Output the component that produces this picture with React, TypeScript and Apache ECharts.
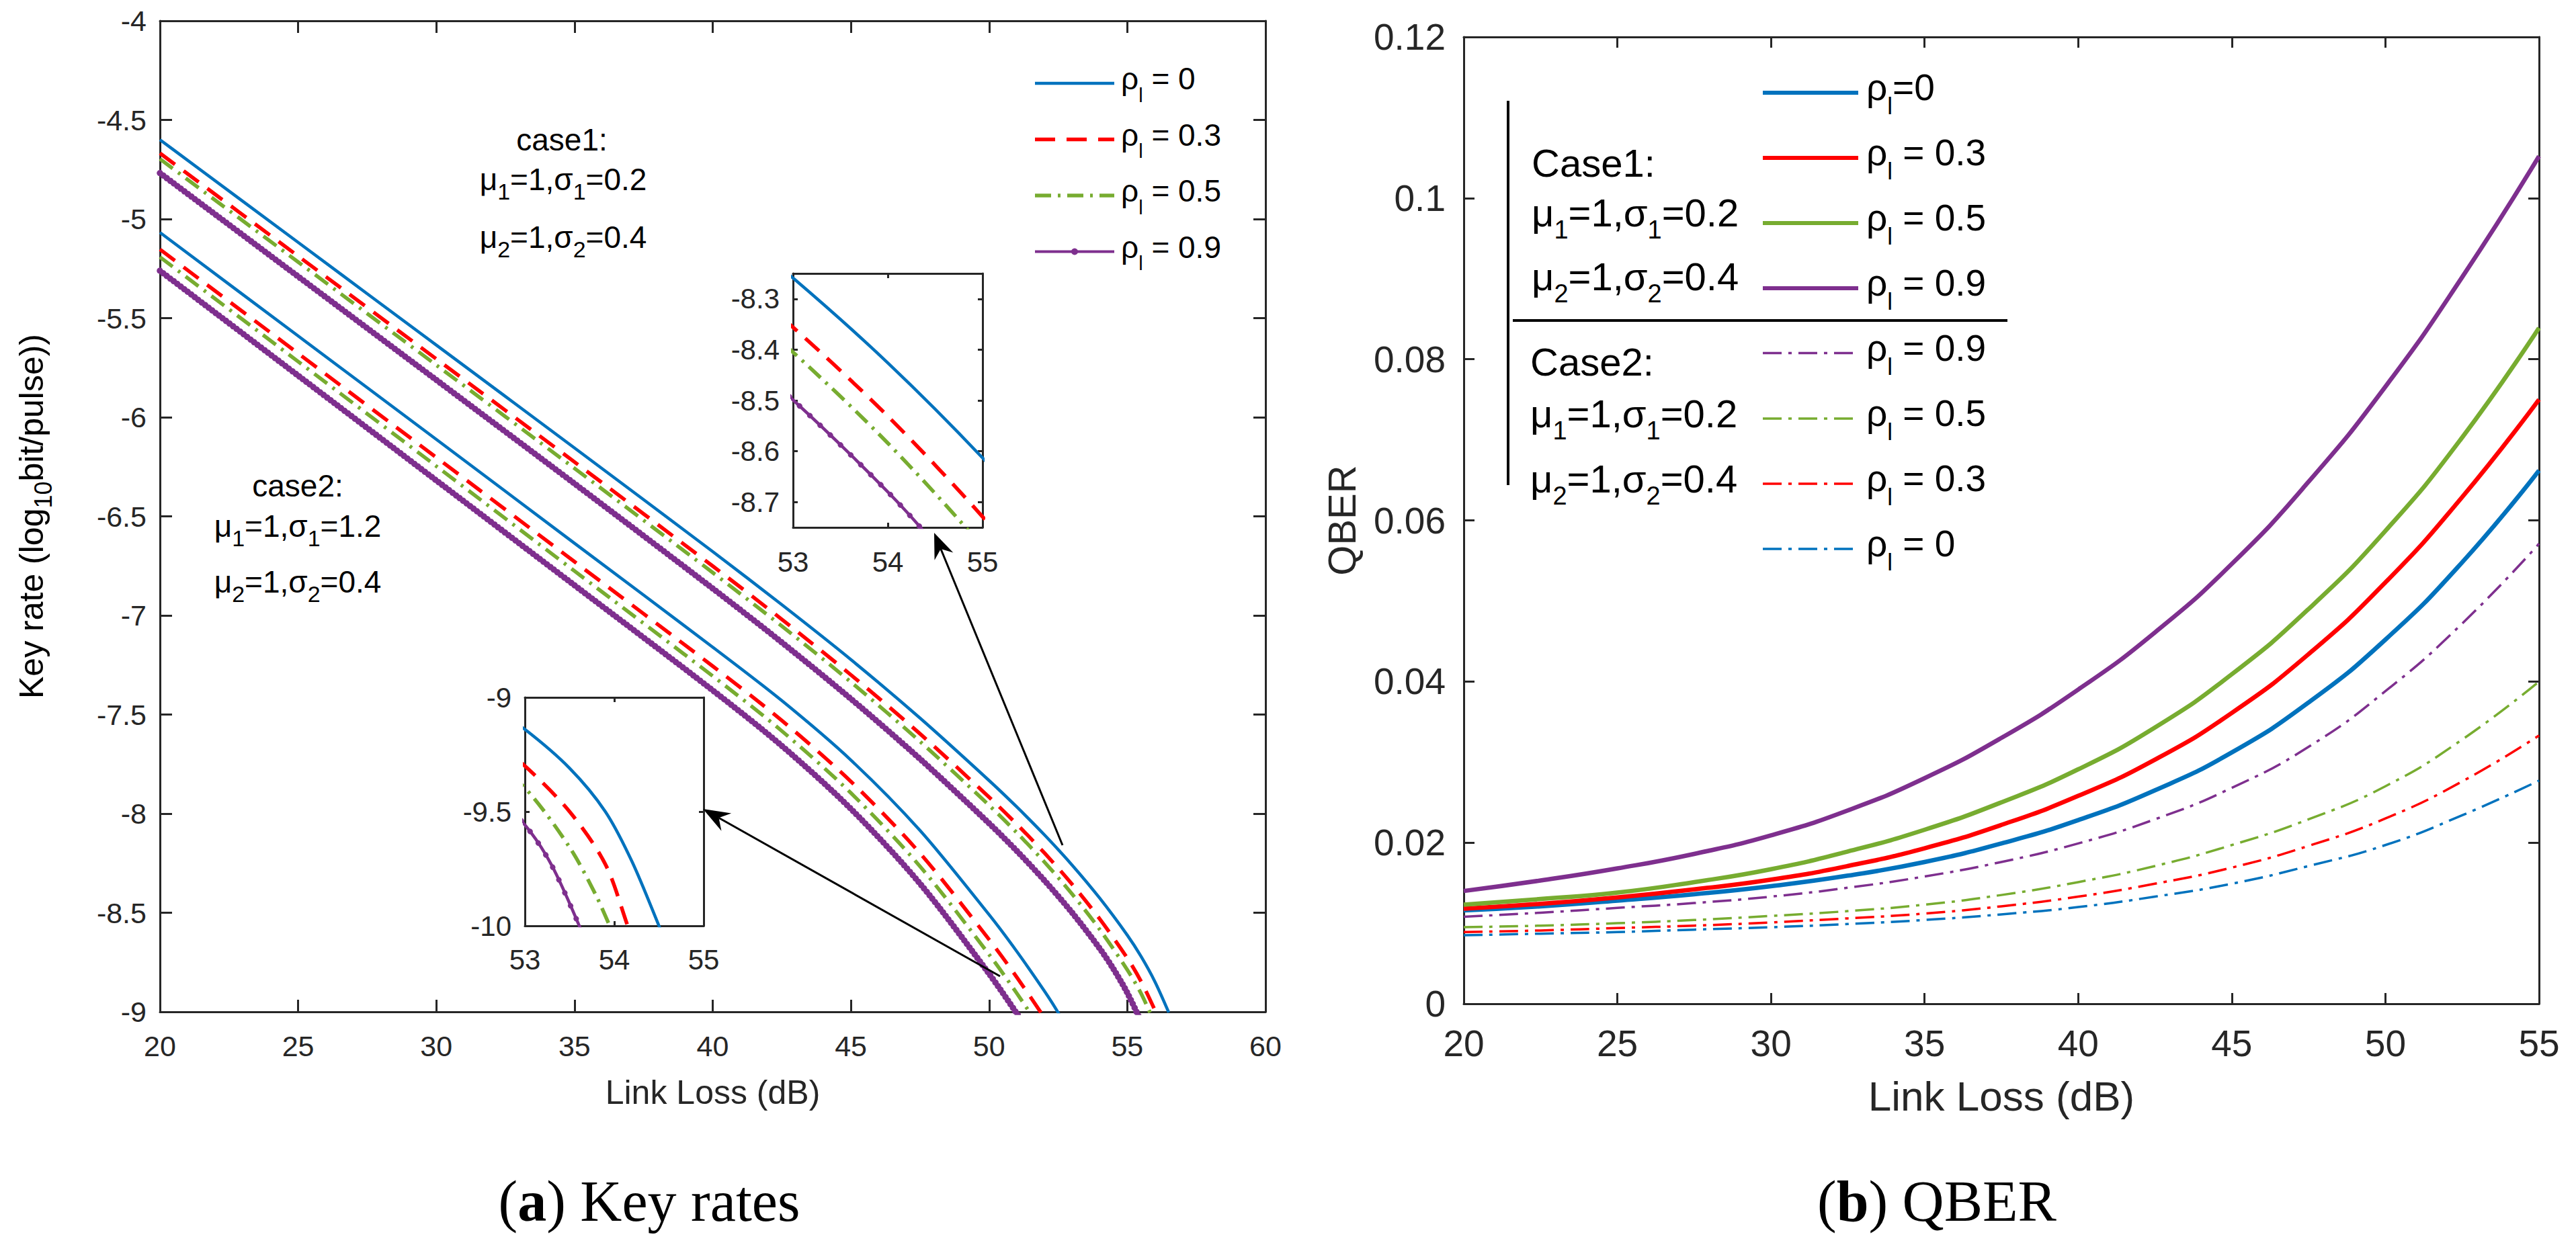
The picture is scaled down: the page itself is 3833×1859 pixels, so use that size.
import React, { useEffect, useRef } from "react";
import * as echarts from "echarts";

const BLUE = "#0072BD";
const RED = "#FF0000";
const GREEN = "#77AC30";
const PURPLE = "#7E2F8E";
const INK = "#262626";
const SANS = "'Liberation Sans', Arial, Helvetica, sans-serif";
const SERIF = "'Liberation Serif', 'Times New Roman', serif";

// ---- (a) key rate, log10(bit/pulse) vs link loss (dB) ----
// case 1: mu1=1, sigma1=0.2, mu2=1, sigma2=0.4
const keyCase1Rho0 = [[20, -4.6], [25, -5.118], [30, -5.636], [35, -6.155], [40, -6.678], [42.5, -6.946], [45, -7.223], [47.5, -7.518], [50, -7.833], [51, -7.966], [52, -8.107], [53, -8.259], [54, -8.426], [55, -8.613], [55.5, -8.721], [56, -8.848], [56.5, -9.003]];
const keyCase1Rho03 = [[20, -4.668], [25, -5.187], [30, -5.706], [35, -6.226], [40, -6.751], [42.5, -7.02], [45, -7.3], [47.5, -7.597], [50, -7.917], [51, -8.053], [52, -8.198], [53, -8.356], [54, -8.531], [55, -8.729], [55.5, -8.847], [56, -8.992], [56.3, -9.09]];
const keyCase1Rho05 = [[20, -4.697], [25, -5.217], [30, -5.737], [35, -6.258], [40, -6.784], [42.5, -7.054], [45, -7.336], [47.5, -7.636], [50, -7.958], [51, -8.096], [52, -8.244], [53, -8.405], [54, -8.584], [55, -8.788], [55.5, -8.908], [56, -9.06]];
const keyCase1Rho09 = [[20, -4.768], [25, -5.29], [30, -5.812], [35, -6.335], [40, -6.864], [42.5, -7.136], [45, -7.421], [47.5, -7.724], [50, -8.049], [51, -8.188], [52, -8.337], [53, -8.499], [54, -8.68], [54.5, -8.784], [55, -8.904], [55.5, -9.05]];
// case 2: mu1=1, sigma1=1.2, mu2=1, sigma2=0.4
const keyCase2Rho0 = [[20, -5.068], [25, -5.59], [30, -6.112], [35, -6.636], [40, -7.16], [42.5, -7.43], [45, -7.73], [47.5, -8.085], [50, -8.51], [51, -8.695], [52, -8.895], [52.5, -9.005], [53, -9.14], [53.5, -9.31], [53.9, -9.5], [54.2, -9.72], [54.5, -10.0], [54.6, -10.1]];
const keyCase2Rho03 = [[20, -5.153], [25, -5.678], [30, -6.203], [35, -6.729], [40, -7.256], [42.5, -7.53], [45, -7.838], [47.5, -8.2], [50, -8.635], [51, -8.825], [52, -9.03], [52.5, -9.145], [53, -9.3], [53.5, -9.5], [53.9, -9.73], [54.15, -10.0], [54.2, -10.06]];
const keyCase2Rho05 = [[20, -5.192], [25, -5.719], [30, -6.247], [35, -6.776], [40, -7.306], [42.5, -7.583], [45, -7.896], [47.5, -8.266], [50, -8.711], [51, -8.906], [52, -9.116], [52.5, -9.236], [53, -9.396], [53.5, -9.656], [53.8, -9.87], [53.97, -10.02]];
const keyCase2Rho09 = [[20, -5.261], [25, -5.79], [30, -6.319], [35, -6.848], [40, -7.378], [42.5, -7.658], [45, -7.976], [47.5, -8.353], [50, -8.808], [51, -9.008], [52, -9.22], [52.5, -9.36], [53, -9.558], [53.3, -9.735], [53.63, -10.02]];

// ---- (b) QBER vs link loss (dB) ----
const qberLoss = [20, 22.5, 25, 27.5, 30, 32.5, 35, 37.5, 40, 42.5, 45, 47.5, 50, 52.5, 55];
const qberCase1Rho0 = [0.0116, 0.0121, 0.0128, 0.0136, 0.0146, 0.0159, 0.0176, 0.0199, 0.0228, 0.0265, 0.0312, 0.0374, 0.0452, 0.0548, 0.0662];
const qberCase1Rho03 = [0.0118, 0.0124, 0.0132, 0.0142, 0.0154, 0.0171, 0.0193, 0.0222, 0.0258, 0.0303, 0.0361, 0.0434, 0.0523, 0.0629, 0.075];
const qberCase1Rho05 = [0.0123, 0.013, 0.0138, 0.0151, 0.0167, 0.0189, 0.0216, 0.025, 0.0291, 0.0343, 0.0409, 0.049, 0.0587, 0.0703, 0.0839];
const qberCase1Rho09 = [0.014, 0.0153, 0.0168, 0.0186, 0.0209, 0.024, 0.028, 0.033, 0.039, 0.0461, 0.0546, 0.0648, 0.0766, 0.0902, 0.1052];
const qberCase2Rho09 = [0.0108, 0.0113, 0.0119, 0.0125, 0.0133, 0.0144, 0.0158, 0.0176, 0.0199, 0.0229, 0.0268, 0.0319, 0.0388, 0.0472, 0.0571];
const qberCase2Rho05 = [0.0095, 0.0097, 0.01, 0.0104, 0.0109, 0.0115, 0.0123, 0.0135, 0.0151, 0.0171, 0.0197, 0.0229, 0.027, 0.0328, 0.04];
const qberCase2Rho03 = [0.0089, 0.0091, 0.0094, 0.0097, 0.0101, 0.0106, 0.0112, 0.0121, 0.0133, 0.0149, 0.0169, 0.0196, 0.023, 0.0276, 0.0333];
const qberCase2Rho0 = [0.0085, 0.0087, 0.0089, 0.0092, 0.0095, 0.0099, 0.0104, 0.0111, 0.012, 0.0133, 0.0149, 0.0171, 0.0197, 0.0234, 0.0277];

const rhoLabels = ["0", "0.3", "0.5", "0.9"];

const DASH = [28, 16];
const DASHDOT = [24, 10, 4, 10];
const QDASHDOT = [28, 10, 5, 10];

const pairs = (xs: number[], ys: number[]) => xs.map((x, i) => [x, ys[i]]);

function curve(data: any, g: number, color: string, width: number, type: any, smooth: number | boolean, z = 2) {
  return {
    type: "line",
    xAxisIndex: 2 * g,
    yAxisIndex: 2 * g,
    data,
    symbol: "none",
    showSymbol: false,
    smooth,
    silent: true,
    z,
    lineStyle: { color, width, type, cap: "butt", join: "round" },
  };
}

// round-capped zero-length dashes give the beaded look of the rho=0.9 marker line
function beads(data: any, g: number, gap: number, size: number, smooth: number | boolean) {
  return {
    type: "line",
    xAxisIndex: 2 * g,
    yAxisIndex: 2 * g,
    data,
    symbol: "none",
    showSymbol: false,
    smooth,
    silent: true,
    z: 4,
    lineStyle: { color: PURPLE, width: size, type: [0.01, gap], cap: "round" },
  };
}

function axisPair(kind: "x" | "y", g: number, opt: any) {
  const { min, max, interval, fontSize, margin, tick, lineW, custom, name } = opt;
  const base: any = {
    type: "value",
    gridIndex: g,
    min,
    max,
    splitLine: { show: false },
    axisLine: { show: true, onZero: false, lineStyle: { color: INK, width: lineW } },
    axisTick: { show: true, inside: true, length: tick, lineStyle: { color: INK, width: lineW } },
  };
  if (interval != null) base.interval = interval;
  if (custom) base.axisTick.customValues = custom;
  const primary: any = {
    ...base,
    position: kind === "x" ? "bottom" : "left",
    axisLabel: {
      show: true,
      fontSize,
      margin,
      color: INK,
      fontFamily: SANS,
      lineHeight: fontSize,
      ...(custom ? { customValues: custom } : {}),
    },
  };
  if (name) Object.assign(primary, name);
  const secondary: any = {
    ...base,
    position: kind === "x" ? "top" : "right",
    axisLabel: { show: false },
  };
  return [primary, secondary];
}

function richStyles(main: number, sub: number, lh: number, slh: number) {
  return {
    m: { fontSize: main, lineHeight: lh, verticalAlign: "middle", fontFamily: SANS, fill: "#000", color: "#000" },
    s: { fontSize: sub, lineHeight: slh, verticalAlign: "bottom", fontFamily: SANS, fill: "#000", color: "#000" },
  };
}

function label(x: number, y: number, text: string, rich: any, align = "left") {
  return {
    type: "text",
    x,
    y,
    silent: true,
    z: 20,
    style: {
      text,
      rich,
      fill: "#000",
      font: `46px ${SANS}`,
      align,
      textAlign: align,
      verticalAlign: "middle",
      textVerticalAlign: "middle",
    },
  };
}

function seg(x1: number, y1: number, x2: number, y2: number, stroke: string, lineWidth: number, lineDash?: number[]) {
  return {
    type: "line",
    silent: true,
    z: 20,
    shape: { x1, y1, x2, y2 },
    style: { stroke, lineWidth, lineDash: lineDash || null, lineCap: "butt" },
  };
}

function arrow(tail: number[], tip: number[], L: number, W: number, notch: number) {
  const dx = tip[0] - tail[0];
  const dy = tip[1] - tail[1];
  const len = Math.hypot(dx, dy);
  const ux = dx / len;
  const uy = dy / len;
  const nx = -uy;
  const ny = ux;
  const bx = tip[0] - ux * L;
  const by = tip[1] - uy * L;
  const back = [tip[0] - ux * notch, tip[1] - uy * notch];
  return [
    seg(tail[0], tail[1], back[0], back[1], "#000", 3),
    {
      type: "polygon",
      silent: true,
      z: 21,
      shape: { points: [tip, [bx + nx * W, by + ny * W], back, [bx - nx * W, by - ny * W]] },
      style: { fill: "#000" },
    },
  ];
}

function buildOption() {
  const q = (ys: number[]) => pairs(qberLoss, ys);

  const grid = [
    { left: 238, top: 31, width: 1645, height: 1475 },
    { left: 1180, top: 407, width: 282, height: 378, show: true, backgroundColor: "#fff", borderWidth: 0 },
    { left: 781, top: 1038, width: 266, height: 340, show: true, backgroundColor: "#fff", borderWidth: 0 },
    { left: 2178, top: 55, width: 1600, height: 1439 },
  ];

  const leftName = {
    name: "{m|Key rate (log}{s|10}{m|bit/pulse))}",
    nameLocation: "middle",
    nameGap: 156,
    nameRotate: 90,
    nameTextStyle: { rich: richStyles(50, 36, 70, 30), color: INK },
  };

  const xAxis = [
    ...axisPair("x", 0, {
      min: 20, max: 60, interval: 5, fontSize: 43, margin: 29, tick: 18, lineW: 3,
      name: {
        name: "Link Loss (dB)", nameLocation: "middle", nameGap: 90,
        nameTextStyle: { fontSize: 50, lineHeight: 60, color: INK, fontFamily: SANS },
      },
    }),
    ...axisPair("x", 1, { min: 53, max: 55, interval: 1, fontSize: 42, margin: 30, tick: 7, lineW: 3 }),
    ...axisPair("x", 2, { min: 53, max: 55, interval: 1, fontSize: 42, margin: 29, tick: 7, lineW: 3 }),
    ...axisPair("x", 3, {
      min: 20, max: 55, interval: 5, fontSize: 55, margin: 31, tick: 16, lineW: 3,
      name: {
        name: "Link Loss (dB)", nameLocation: "middle", nameGap: 102,
        nameTextStyle: { fontSize: 62, lineHeight: 70, color: INK, fontFamily: SANS },
      },
    }),
  ];

  const yAxis = [
    ...axisPair("y", 0, { min: -9, max: -4, interval: 0.5, fontSize: 43, margin: 20, tick: 18, lineW: 3, name: leftName }),
    ...axisPair("y", 1, { min: -8.75, max: -8.25, fontSize: 42, margin: 20, tick: 7, lineW: 3, custom: [-8.7, -8.6, -8.5, -8.4, -8.3] }),
    ...axisPair("y", 2, { min: -10, max: -9, interval: 0.5, fontSize: 42, margin: 20, tick: 7, lineW: 3 }),
    ...axisPair("y", 3, {
      min: 0, max: 0.12, interval: 0.02, fontSize: 55, margin: 27, tick: 16, lineW: 3,
      name: {
        name: "QBER", nameLocation: "middle", nameGap: 150, nameRotate: 90,
        nameTextStyle: { fontSize: 58, lineHeight: 64, color: INK, fontFamily: SANS },
      },
    }),
  ];

  const keySeries = (g: number, gap: number, bead: number, smooth: number | boolean, cases: number[]) => {
    const out: any[] = [];
    if (cases.includes(1)) {
      out.push(
        curve(keyCase1Rho0, g, BLUE, 4.5, "solid", smooth),
        curve(keyCase1Rho03, g, RED, 5.5, DASH, smooth),
        curve(keyCase1Rho05, g, GREEN, 5.5, DASHDOT, smooth),
        curve(keyCase1Rho09, g, PURPLE, 4.5, "solid", smooth, 3),
        beads(keyCase1Rho09, g, gap, bead, smooth),
      );
    }
    if (cases.includes(2)) {
      out.push(
        curve(keyCase2Rho0, g, BLUE, 4.5, "solid", smooth),
        curve(keyCase2Rho03, g, RED, 5.5, DASH, smooth),
        curve(keyCase2Rho05, g, GREEN, 5.5, DASHDOT, smooth),
        curve(keyCase2Rho09, g, PURPLE, 4.5, "solid", smooth, 3),
        beads(keyCase2Rho09, g, gap, bead, smooth),
      );
    }
    return out;
  };

  const series = [
    ...keySeries(0, 6.5, 9.5, 0.3, [1, 2]),
    ...keySeries(1, 21, 8, 0.3, [1]),
    ...keySeries(2, 21, 8, 0.3, [2]),
    curve(q(qberCase1Rho0), 3, BLUE, 6.5, "solid", 0.5),
    curve(q(qberCase1Rho03), 3, RED, 6.5, "solid", 0.5),
    curve(q(qberCase1Rho05), 3, GREEN, 6.5, "solid", 0.5),
    curve(q(qberCase1Rho09), 3, PURPLE, 6.5, "solid", 0.5),
    curve(q(qberCase2Rho09), 3, PURPLE, 3.5, QDASHDOT, 0.5),
    curve(q(qberCase2Rho05), 3, GREEN, 3.5, QDASHDOT, 0.5),
    curve(q(qberCase2Rho03), 3, RED, 3.5, QDASHDOT, 0.5),
    curve(q(qberCase2Rho0), 3, BLUE, 3.5, QDASHDOT, 0.5),
  ];

  // ---- annotations, legends, arrows, captions ----
  const g: any[] = [];

  // legend of (a)
  const legA = richStyles(46, 29, 78, 22);
  const legARows = [124, 207.6, 291, 374.5];
  const legAStyles: Array<[string, number, any]> = [
    [BLUE, 4.5, null],
    [RED, 5.5, [30, 17]],
    [GREEN, 5.5, DASHDOT],
    [PURPLE, 4, null],
  ];
  legARows.forEach((y, i) => {
    const [c, w, d] = legAStyles[i];
    g.push(seg(1540, y, 1658, y, c, w, d));
    g.push(label(1668, y - 7, `{m|ρ}{s|l}{m| = ${rhoLabels[i]}}`, legA));
  });
  g.push({ type: "circle", silent: true, z: 21, shape: { cx: 1599, cy: legARows[3], r: 5 }, style: { fill: PURPLE } });

  // case notes of (a)
  const noteA = richStyles(46, 34, 70, 34);
  g.push(label(836, 207.6, "{m|case1:}", noteA, "center"));
  g.push(label(838, 267.4, "{m|μ}{s|1}{m|=1,σ}{s|1}{m|=0.2}", noteA, "center"));
  g.push(label(838, 352.7, "{m|μ}{s|2}{m|=1,σ}{s|2}{m|=0.4}", noteA, "center"));
  g.push(label(443, 722.8, "{m|case2:}", noteA, "center"));
  g.push(label(443, 783, "{m|μ}{s|1}{m|=1,σ}{s|1}{m|=1.2}", noteA, "center"));
  g.push(label(443, 865.6, "{m|μ}{s|2}{m|=1,σ}{s|2}{m|=0.4}", noteA, "center"));

  // arrows from the curve ends to the zoomed views
  g.push(...arrow([1581, 1258], [1390, 793], 38, 15, 26));
  g.push(...arrow([1488, 1453], [1046, 1204], 40, 15, 27));

  // grouped legend of (b)
  g.push(seg(2244, 150, 2244, 722, "#000", 4));
  g.push(seg(2251, 477, 2987, 477, "#000", 4));
  const noteB = richStyles(58, 38, 90, 34);
  g.push(label(2279, 242, "{m|Case1:}", noteB));
  g.push(label(2279, 316, "{m|μ}{s|1}{m|=1,σ}{s|1}{m|=0.2}", noteB));
  g.push(label(2279, 411, "{m|μ}{s|2}{m|=1,σ}{s|2}{m|=0.4}", noteB));
  g.push(label(2277, 538, "{m|Case2:}", noteB));
  g.push(label(2277, 615, "{m|μ}{s|1}{m|=1,σ}{s|1}{m|=0.2}", noteB));
  g.push(label(2277, 712, "{m|μ}{s|2}{m|=1,σ}{s|2}{m|=0.4}", noteB));

  const legB = richStyles(55, 35, 90, 30);
  const legBRows: Array<[number, string, number, any, string]> = [
    [138, BLUE, 6, null, "{m|ρ}{s|l}{m|=0}"],
    [235, RED, 6, null, `{m|ρ}{s|l}{m| = ${rhoLabels[1]}}`],
    [332, GREEN, 6, null, `{m|ρ}{s|l}{m| = ${rhoLabels[2]}}`],
    [429, PURPLE, 6, null, `{m|ρ}{s|l}{m| = ${rhoLabels[3]}}`],
    [525.5, PURPLE, 3.5, QDASHDOT, `{m|ρ}{s|l}{m| = ${rhoLabels[3]}}`],
    [623, GREEN, 3.5, QDASHDOT, `{m|ρ}{s|l}{m| = ${rhoLabels[2]}}`],
    [720, RED, 3.5, QDASHDOT, `{m|ρ}{s|l}{m| = ${rhoLabels[1]}}`],
    [817, BLUE, 3.5, QDASHDOT, `{m|ρ}{s|l}{m| = ${rhoLabels[0]}}`],
  ];
  legBRows.forEach(([y, c, w, d, t]) => {
    g.push(seg(2623, y, 2765, y, c, w, d));
    g.push(label(2777, y - 8, t, legB));
  });

  // captions
  const cap = {
    p: { fontSize: 86, fontFamily: SERIF, fill: "#000", color: "#000" },
    b: { fontSize: 86, fontFamily: SERIF, fontWeight: "bold", fill: "#000", color: "#000" },
  };
  g.push(label(966, 1788, "{p|(}{b|a}{p|) Key rates}", cap, "center"));
  g.push(label(2882, 1788, "{p|(}{b|b}{p|) QBER}", cap, "center"));

  return {
    animation: false,
    backgroundColor: "#ffffff",
    textStyle: { fontFamily: SANS },
    grid,
    xAxis,
    yAxis,
    series,
    graphic: { elements: g },
  };
}

export default function App() {
  const ref = useRef<HTMLDivElement>(null);
  useEffect(() => {
    if (!ref.current) return;
    const chart = echarts.init(ref.current, null, { renderer: "svg" });
    chart.setOption(buildOption() as any);
    return () => chart.dispose();
  }, []);
  return (
    <div
      ref={ref}
      style={{ position: "absolute", left: 0, top: 0, width: 3833, height: 1859, background: "#fff" }}
    />
  );
}
